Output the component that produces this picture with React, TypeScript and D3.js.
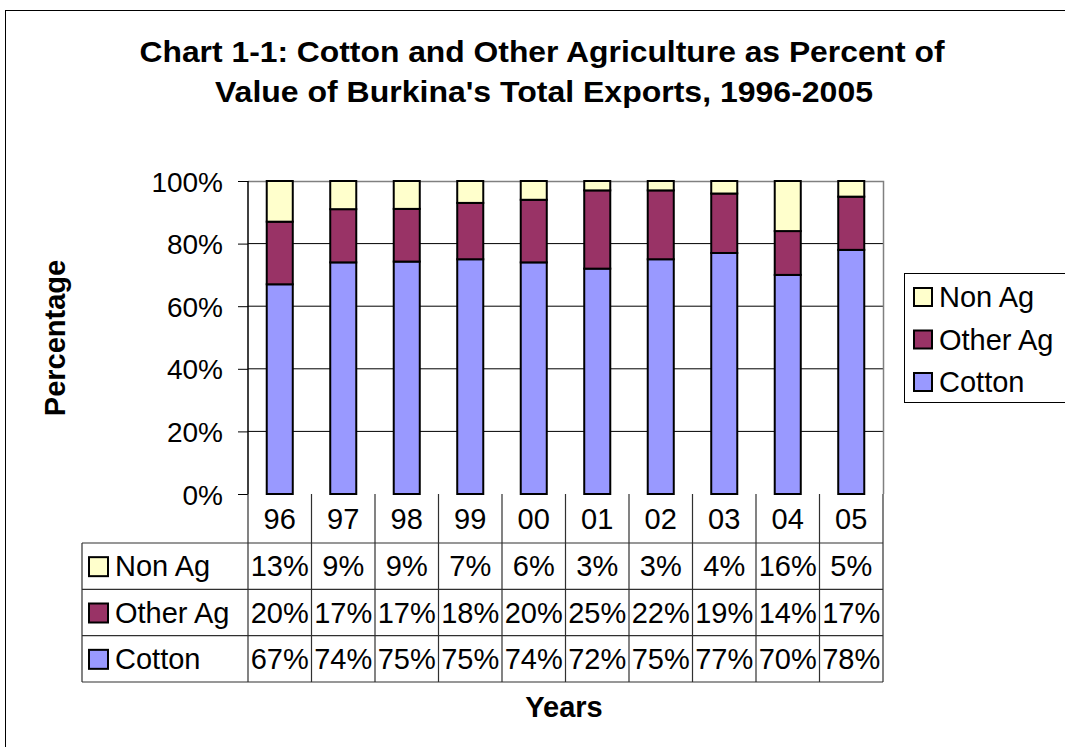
import { useEffect, useRef } from "react";
import * as d3 from "d3";

const years = ["96", "97", "98", "99", "00", "01", "02", "03", "04", "05"];
const cotton = [67, 74, 75, 75, 74, 72, 75, 77, 70, 78];
const otherAg = [20, 17, 17, 18, 20, 25, 22, 19, 14, 17];
const nonAg = [13, 9, 9, 7, 6, 3, 3, 4, 16, 5];
const seriesNames = ["Cotton", "Other Ag", "Non Ag"];
const seriesColors = ["#9999FF", "#993366", "#FFFFCC"];
const yTicks = [0, 0.2, 0.4, 0.6, 0.8, 1];

const FONT = "'Liberation Sans', Arial, sans-serif";

export default function App() {
  const ref = useRef<SVGSVGElement>(null);

  useEffect(() => {
    document.body.style.margin = "0";
    if (!ref.current) return;
    const svg = d3.select(ref.current);
    svg.selectAll("*").remove();
    const W = 1065;
    const H = 747;

    // outer chart border
    svg.append("rect")
      .attr("x", 5.5).attr("y", 10.5)
      .attr("width", W + 20).attr("height", H + 20)
      .attr("fill", "white").attr("stroke", "#000").attr("stroke-width", 1);

    // title
    const title = svg.append("text")
      .attr("text-anchor", "middle")
      .attr("font-family", FONT).attr("font-weight", "bold").attr("font-size", 30);
    title.append("tspan").attr("x", 542).attr("y", 62)
      .attr("textLength", 805).attr("lengthAdjust", "spacingAndGlyphs")
      .text("Chart 1-1: Cotton and Other Agriculture as Percent of");
    title.append("tspan").attr("x", 544).attr("y", 102)
      .attr("textLength", 658).attr("lengthAdjust", "spacingAndGlyphs")
      .text("Value of Burkina's Total Exports, 1996-2005");

    const left = 248, right = 883, top = 181, bottom = 494;
    const cols = d3.scaleBand<string>().domain(years).range([left, right]);
    const y = d3.scaleLinear().domain([0, 1]).range([bottom, top]);

    const table = years.map((yr, i) => ({ year: yr, Cotton: cotton[i], "Other Ag": otherAg[i], "Non Ag": nonAg[i] }));
    const stack = d3.stack<any>().keys(seriesNames).offset(d3.stackOffsetExpand);
    const stacked = stack(table);

    // gridlines
    svg.append("g")
      .selectAll("line")
      .data(yTicks.slice(1, -1))
      .join("line")
      .attr("x1", left).attr("x2", right)
      .attr("y1", (d) => y(d)).attr("y2", (d) => y(d))
      .attr("stroke", "#000").attr("stroke-width", 1);

    // plot area border (top, right)
    svg.append("path")
      .attr("d", `M${left},${top + 0.5}H${right + 0.5}V${bottom}`)
      .attr("fill", "none").attr("stroke", "#808080").attr("stroke-width", 1.5);

    // bars
    const barW = cols.bandwidth() * 0.41;
    svg.append("g")
      .selectAll("g")
      .data(stacked)
      .join("g")
      .attr("fill", (_, i) => seriesColors[i])
      .selectAll("rect")
      .data((s) => s)
      .join("rect")
      .attr("x", (d: any) => cols(d.data.year)! + (cols.bandwidth() - barW) / 2)
      .attr("width", barW)
      .attr("y", (d) => y(d[1]))
      .attr("height", (d) => y(d[0]) - y(d[1]))
      .attr("stroke", "#000").attr("stroke-width", 2);

    // y axis
    const yAxis = svg.append("g")
      .attr("transform", `translate(${left},0)`)
      .call(d3.axisLeft(y).tickValues(yTicks).tickFormat(d3.format(".0%")).tickSize(10).tickPadding(15));
    yAxis.select(".domain").attr("stroke", "#000").attr("stroke-width", 1.5).attr("d", `M0,${top}V${bottom}`);
    yAxis.selectAll(".tick line").attr("stroke", "#000");
    yAxis.selectAll("text").attr("font-family", FONT).attr("font-size", 28).attr("fill", "#000").attr("dy", "0.36em");

    // y axis title
    svg.append("text")
      .attr("transform", `translate(65,338) rotate(-90)`)
      .attr("text-anchor", "middle")
      .attr("font-family", FONT).attr("font-weight", "bold").attr("font-size", 29)
      .text("Percentage");

    // data table
    const rowNames = ["Non Ag", "Other Ag", "Cotton"];
    const rowVals: Record<string, number[]> = { "Non Ag": nonAg, "Other Ag": otherAg, Cotton: cotton };
    const rows = d3.scaleBand<string>().domain(rowNames).range([543, 682]);
    const tableLeft = 82;
    const tg = svg.append("g");
    const lineColor = "#303030";
    const cellFont = 29;

    // header years
    tg.selectAll("text.yr")
      .data(years)
      .join("text")
      .attr("class", "yr")
      .attr("x", (d) => cols(d)! + cols.bandwidth() / 2)
      .attr("y", 529)
      .attr("text-anchor", "middle")
      .attr("font-family", FONT).attr("font-size", cellFont)
      .text((d) => d);

    // horizontal lines
    tg.selectAll("line.h")
      .data([543, ...rowNames.map((r) => rows(r)! + rows.bandwidth())])
      .join("line")
      .attr("class", "h")
      .attr("x1", tableLeft).attr("x2", right)
      .attr("y1", (d) => d).attr("y2", (d) => d)
      .attr("stroke", lineColor).attr("stroke-width", 1.2);

    // vertical lines
    tg.selectAll("line.v")
      .data([...years.map((d) => cols(d)!), right])
      .join("line")
      .attr("class", "v")
      .attr("x1", (d) => d).attr("x2", (d) => d)
      .attr("y1", bottom).attr("y2", 682)
      .attr("stroke", lineColor).attr("stroke-width", 1.2);
    tg.append("line")
      .attr("x1", tableLeft).attr("x2", tableLeft)
      .attr("y1", 543).attr("y2", 682)
      .attr("stroke", lineColor).attr("stroke-width", 1.2);

    // row labels with keys
    rowNames.forEach((r) => {
      const cy = rows(r)! + rows.bandwidth() / 2;
      const si = seriesNames.indexOf(r);
      tg.append("rect")
        .attr("x", 89).attr("y", cy - 9)
        .attr("width", 19).attr("height", 19)
        .attr("fill", seriesColors[si]).attr("stroke", "#000").attr("stroke-width", 2);
      tg.append("text")
        .attr("x", 115).attr("y", cy + 10)
        .attr("font-family", FONT).attr("font-size", cellFont)
        .text(r);
      tg.selectAll(null)
        .data(rowVals[r])
        .join("text")
        .attr("x", (_, i) => cols(years[i])! + cols.bandwidth() / 2)
        .attr("y", cy + 10)
        .attr("text-anchor", "middle")
        .attr("font-family", FONT).attr("font-size", cellFont)
        .text((d) => `${d}%`);
    });

    // x axis title
    svg.append("text")
      .attr("x", 564).attr("y", 717)
      .attr("text-anchor", "middle")
      .attr("font-family", FONT).attr("font-weight", "bold").attr("font-size", 29)
      .text("Years");

    // legend
    const lg = svg.append("g");
    lg.append("rect")
      .attr("x", 904.5).attr("y", 273.5)
      .attr("width", 200).attr("height", 129)
      .attr("fill", "white").attr("stroke", "#000").attr("stroke-width", 1);
    const legendItems = ["Non Ag", "Other Ag", "Cotton"];
    const ly = d3.scalePoint<string>().domain(legendItems).range([297, 382]);
    legendItems.forEach((name) => {
      const si = seriesNames.indexOf(name);
      lg.append("rect")
        .attr("x", 914).attr("y", ly(name)! - 9)
        .attr("width", 18).attr("height", 18)
        .attr("fill", seriesColors[si]).attr("stroke", "#000").attr("stroke-width", 2);
      lg.append("text")
        .attr("x", 939).attr("y", ly(name)! + 10)
        .attr("font-family", FONT).attr("font-size", cellFont)
        .text(name);
    });
  }, []);

  return <svg ref={ref} width={1065} height={747} style={{ display: "block" }} />;
}
